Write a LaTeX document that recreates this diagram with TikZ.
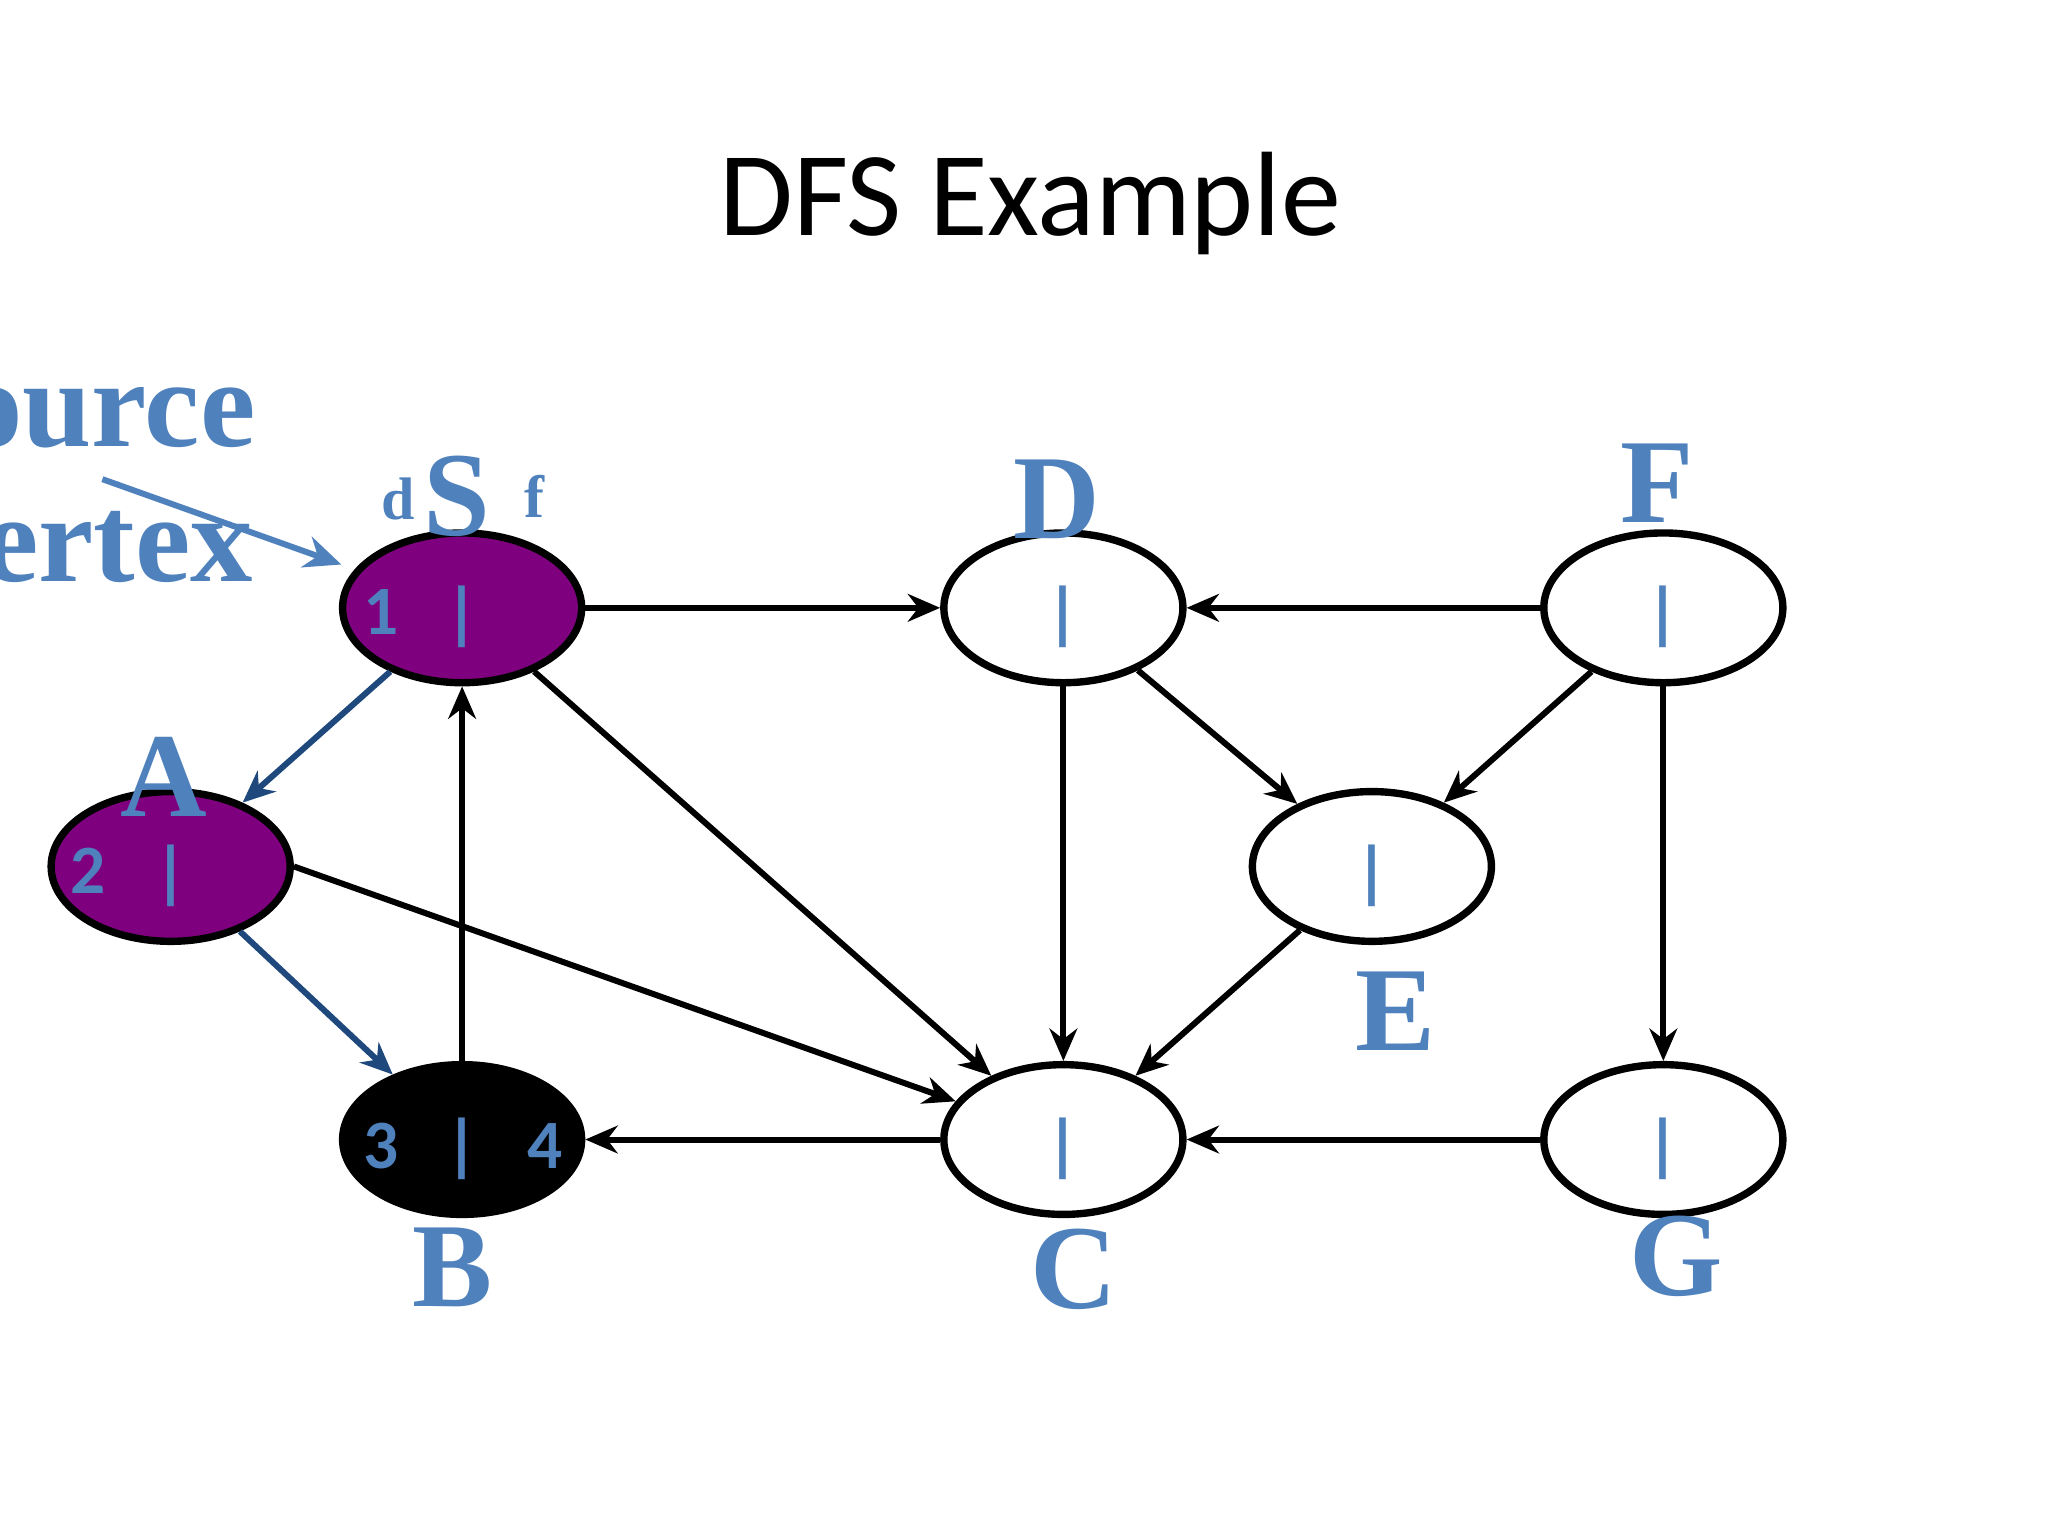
\documentclass[tikz,border=0pt]{standalone}
\usepackage{fontspec}
\setmainfont{Liberation Serif}
\newfontfamily\calfnt{Carlito}
\usetikzlibrary{arrows.meta,shapes.geometric}
\definecolor{lb}{HTML}{4F81BD}
\definecolor{pur}{HTML}{7F007F}
\begin{document}
\begin{tikzpicture}[x=0.01cm,y=-0.01cm,
 v/.style={ellipse,draw=black,line width=1.6pt,minimum width=1.82cm,minimum height=1.14cm,inner sep=0pt,fill=white},
 e/.style={line width=1.3pt,-{Stealth[length=7pt,width=6pt]}},
 be/.style={e,draw={rgb,255:red,31;green,73;blue,125}},
 lab/.style={text=lb,font=\fontsize{26}{26}\selectfont\bfseries},
 num/.style={text=lb,font=\calfnt\bfseries\fontsize{15}{15}\selectfont}]
\useasboundingbox (0,0) rectangle (1560,1170);
\clip (0,0) rectangle (1560,1170);
\node[font=\calfnt\fontsize{26}{26}\selectfont] (t) at (785,155) {DFS Example};
\node[v,fill=pur] (S) at (352,463) {};
\node[v,fill=pur] (A) at (130,660) {};
\node[v,fill=black] (B) at (352,868) {};
\node[v] (C) at (810,868) {};
\node[v] (D) at (810,463) {};
\node[v] (E) at (1045,660) {};
\node[v] (F) at (1267,463) {};
\node[v] (G) at (1267,868) {};
\draw[e] (S) -- (D);
\draw[be] (S) -- (A);
\draw[e] (S) -- (C);
\draw[be] (A) -- (B);
\draw[e] (A.east) -- (C);
\draw[e] (B) -- (S);
\draw[e] (C) -- (B);
\draw[e] (D) -- (C);
\draw[e] (D) -- (E);
\draw[e] (F) -- (D);
\draw[e] (F) -- (E);
\draw[e] (F) -- (G);
\draw[e] (E) -- (C);
\draw[e] (G) -- (C);
\foreach \n/\x/\y in {S/352/470,A/130/667,B/352/875,C/810/875,D/810/470,E/1045/667,F/1267/470,G/1267/875}
  \node[num] (bar\n) at (\x,\y) {|};
\node[num] (n1) at (290,466) {1};
\node[num] (n2) at (67,663) {2};
\node[num] (n3) at (290,873) {3};
\node[num] (n4) at (415,873) {4};
\node[lab] (lS) at (348,378) {S};
\node[lab] (lA) at (125,592) {A};
\node[lab] (lB) at (345,965) {B};
\node[lab] (lC) at (818,967) {C};
\node[lab] (lD) at (805,380) {D};
\node[lab] (lE) at (1063,770) {E};
\node[lab] (lF) at (1262,368) {F};
\node[lab] (lG) at (1277,957) {G};
\node[text=lb,font=\fontsize{13}{13}\selectfont\bfseries] (ld) at (303,380) {d};
\node[text=lb,font=\fontsize{13}{13}\selectfont\bfseries] (lf) at (407,378) {f};
\node[text=lb,font=\fontsize{27}{27}\selectfont\bfseries,anchor=base east] (src) at (207,340) {Source};
\node[text=lb,font=\fontsize{27}{27}\selectfont\bfseries,anchor=base east] (vtx) at (205,443) {vertex};
\coordinate (a0) at (78,365);
\coordinate (a1) at (260,430);
\draw[line width=1.3pt,draw=lb,-{Stealth[length=8pt,width=7pt]}] (a0) -- (a1);
\end{tikzpicture}
\end{document}
